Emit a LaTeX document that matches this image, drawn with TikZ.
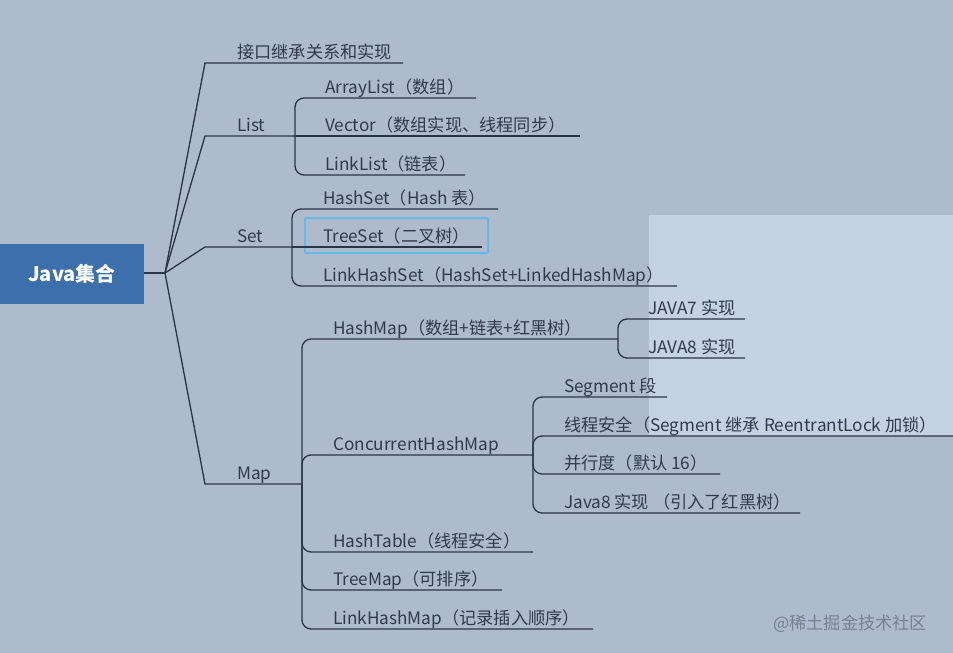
\documentclass[tikz,border=0pt]{standalone}
\usepackage{fontspec}
\setmainfont{Noto Sans CJK SC}
\usepackage{tikz}
\usetikzlibrary{positioning}
\definecolor{bgcol}{RGB}{174,187,204}
\definecolor{hlcol}{RGB}{197,210,228}
\definecolor{linecol}{RGB}{42,52,72}
\definecolor{txtcol}{RGB}{50,58,74}
\definecolor{rootcol}{RGB}{61,111,172}
\definecolor{selcol}{RGB}{100,185,232}
\definecolor{markcol}{RGB}{120,128,142}
\tikzset{
  branch/.style={draw=linecol, line width=1.3pt, rounded corners=9pt},
  trunk/.style={draw=linecol, line width=1.3pt},
  lbl/.style={anchor=base west, inner sep=0pt, text=txtcol, font=\fontsize{17.2}{20}\selectfont},
  rootbox/.style={fill=rootcol, text=white, minimum width=144pt, minimum height=60pt, inner sep=0pt, font=\bfseries\fontsize{20}{24}\selectfont},
  selbox/.style={draw=selcol, line width=2pt, rounded corners=1pt},
}

\begin{document}
\begin{tikzpicture}[x=1pt,y=-1pt]
  \fill[bgcol] (0,0) rectangle (953,653);
  \useasboundingbox (0,0) rectangle (953,653);
  \fill[hlcol] (649,215) rectangle (953,436);

  % root
  \node[rootbox] (root) at (72,274) {Java集合};
  \coordinate (hub) at (165,273);
  \draw[trunk] (root.east |- hub) -- (hub);

  % first level
  \node[lbl] (iface) at (237,58) {接口继承关系和实现};
  \node[lbl] (list) at (237,131) {List};
  \node[lbl] (set) at (237,242) {Set};
  \node[lbl] (map) at (237,479) {Map};
  \coordinate (iface0) at (205,63);
  \coordinate (ifaceE) at (403,63);
  \coordinate (list0) at (205,136);
  \coordinate (listJ) at (295,136);
  \coordinate (set0) at (205,247);
  \coordinate (setJ) at (292,247);
  \coordinate (map0) at (205,484);
  \coordinate (mapJ) at (302,484);
  \draw[trunk] (hub) -- (iface0) -- (ifaceE);
  \draw[trunk] (hub) -- (list0) -- (listJ);
  \draw[trunk] (hub) -- (set0) -- (setJ);
  \draw[trunk] (hub) -- (map0) -- (mapJ);

  % List
  \node[lbl] (arr) at (325,93) {ArrayList（数组）};
  \node[lbl] (vec) at (325,131) {Vector（数组实现、线程同步）};
  \node[lbl] (lnk) at (325,170) {LinkList（链表）};
  \coordinate (arrE) at (476,98);
  \coordinate (vecE) at (580,136);
  \coordinate (lnkE) at (465,175);
  \draw[branch] (listJ) |- (arrE);
  \draw[branch] (listJ) -- (vecE);
  \draw[branch] (listJ) |- (lnkE);

  % Set
  \draw[selbox] (305,218) rectangle (488,253);
  \node[lbl] (hs) at (323,204) {HashSet（Hash 表）};
  \node[lbl] (ts) at (323,242) {TreeSet（二叉树）};
  \node[lbl] (lhs) at (323,281) {LinkHashSet（HashSet+LinkedHashMap）};
  \coordinate (hsE) at (498,209);
  \coordinate (tsE) at (482,247);
  \coordinate (lhsE) at (677,286);
  \draw[branch] (setJ) |- (hsE);
  \draw[branch] (setJ) -- (tsE);
  \draw[branch] (setJ) |- (lhsE);

  % Map
  \node[lbl] (hm) at (333,334) {HashMap（数组+链表+红黑树）};
  \node[lbl] (chm) at (333,450) {ConcurrentHashMap};
  \node[lbl] (ht) at (333,547) {HashTable（线程安全）};
  \node[lbl] (tm) at (333,585) {TreeMap（可排序）};
  \node[lbl] (lhm) at (333,624) {LinkHashMap（记录插入顺序）};
  \coordinate (hmJ) at (618,339);
  \coordinate (chmJ) at (533,455);
  \coordinate (htE) at (533,552);
  \coordinate (tmE) at (502,590);
  \coordinate (lhmE) at (593,629);
  \draw[branch] (mapJ) |- (hmJ);
  \draw[branch] (mapJ) |- (chmJ);
  \draw[branch] (mapJ) |- (htE);
  \draw[branch] (mapJ) |- (tmE);
  \draw[branch] (mapJ) |- (lhmE);

  % HashMap
  \node[lbl] (j7) at (648,314) {JAVA7 实现};
  \node[lbl] (j8) at (648,353) {JAVA8 实现};
  \coordinate (j7E) at (745,319);
  \coordinate (j8E) at (745,358);
  \draw[branch] (hmJ) |- (j7E);
  \draw[branch] (hmJ) |- (j8E);

  % ConcurrentHashMap
  \node[lbl] (seg) at (564,392) {Segment 段};
  \node[lbl] (safe) at (564,431) {线程安全（Segment 继承 ReentrantLock 加锁）};
  \node[lbl] (par) at (564,469) {并行度（默认 16）};
  \node[lbl] (jv8) at (564,508) {Java8 实现 （引入了红黑树）};
  \coordinate (segE) at (667,397);
  \coordinate (safeE) at (953,436);
  \coordinate (parE) at (720,474);
  \coordinate (jv8E) at (800,513);
  \draw[branch] (chmJ) |- (segE);
  \draw[branch] (chmJ) |- (safeE);
  \draw[branch] (chmJ) |- (parE);
  \draw[branch] (chmJ) |- (jv8E);

  \node[lbl, text=markcol] (mark) at (773,629) {@稀土掘金技术社区};
\end{tikzpicture}
\end{document}
